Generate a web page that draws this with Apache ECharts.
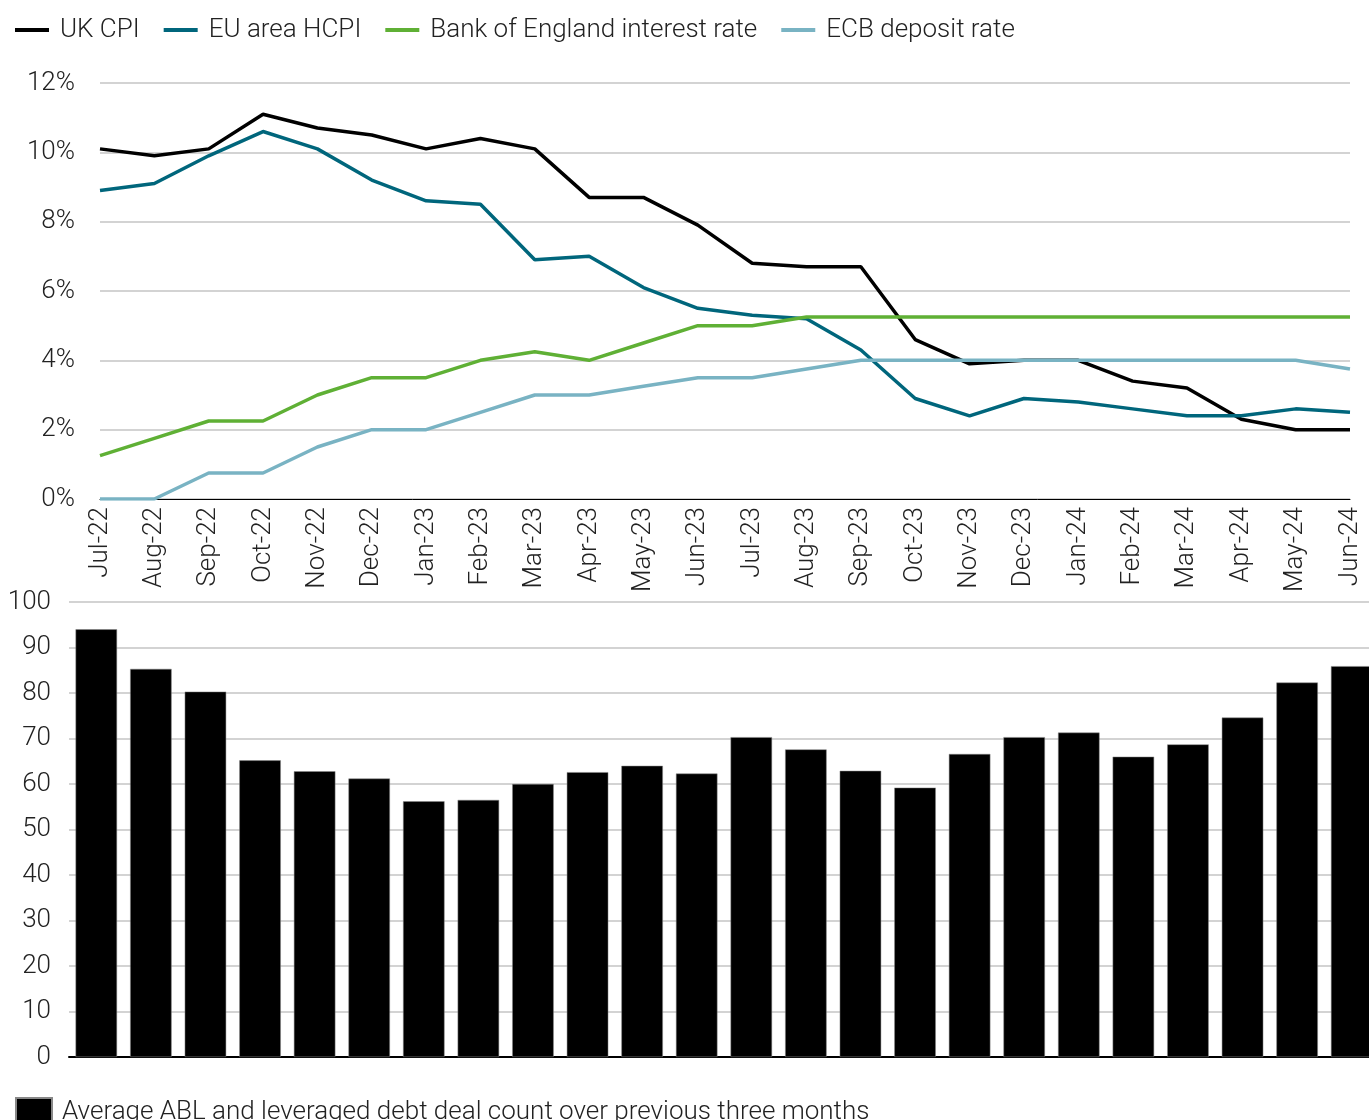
<!DOCTYPE html>
<html>
<head>
<meta charset="utf-8">
<script src="https://cdn.jsdelivr.net/npm/echarts@6/dist/echarts.min.js"></script>
<style>
  html, body { margin: 0; padding: 0; background: #fff; overflow: hidden; }
  /* a little wider than the window: the last bar is cut at the right edge */
  #chart { width: 1380px; height: 1120px; }
</style>
</head>
<body>
<div id="chart"></div>
<script>
"use strict";
var months = ["Jul-22", "Aug-22", "Sep-22", "Oct-22", "Nov-22", "Dec-22", "Jan-23", "Feb-23",
  "Mar-23", "Apr-23", "May-23", "Jun-23", "Jul-23", "Aug-23", "Sep-23", "Oct-23", "Nov-23",
  "Dec-23", "Jan-24", "Feb-24", "Mar-24", "Apr-24", "May-24", "Jun-24"];

var ukCpi = [10.1, 9.9, 10.1, 11.1, 10.7, 10.5, 10.1, 10.4, 10.1, 8.7, 8.7, 7.9,
  6.8, 6.7, 6.7, 4.6, 3.9, 4.0, 4.0, 3.4, 3.2, 2.3, 2.0, 2.0];
var euHcpi = [8.9, 9.1, 9.9, 10.6, 10.1, 9.2, 8.6, 8.5, 6.9, 7.0, 6.1, 5.5,
  5.3, 5.2, 4.3, 2.9, 2.4, 2.9, 2.8, 2.6, 2.4, 2.4, 2.6, 2.5];
var boeRate = [1.25, 1.75, 2.25, 2.25, 3.0, 3.5, 3.5, 4.0, 4.25, 4.0, 4.5, 5.0,
  5.0, 5.25, 5.25, 5.25, 5.25, 5.25, 5.25, 5.25, 5.25, 5.25, 5.25, 5.25];
var ecbRate = [0, 0, 0.75, 0.75, 1.5, 2.0, 2.0, 2.5, 3.0, 3.0, 3.25, 3.5,
  3.5, 3.75, 4.0, 4.0, 4.0, 4.0, 4.0, 4.0, 4.0, 4.0, 4.0, 3.75];
var dealCount = [94.0, 85.3, 80.3, 65.2, 62.8, 61.2, 56.2, 56.5, 60.0, 62.6, 64.0, 62.3,
  70.3, 67.6, 62.9, 59.2, 66.6, 70.3, 71.3, 66.0, 68.7, 74.6, 82.3, 85.9];

var FONT = "Roboto";
var TEXT = "#222";
var FS = 26;

var chart = echarts.init(document.getElementById("chart"), null, { renderer: "canvas" });

function lineSeries(name, data, color) {
  return {
    name: name, type: "line", xAxisIndex: 0, yAxisIndex: 0,
    data: data, symbol: "none", smooth: false,
    lineStyle: { color: color, width: 3.5 },
    itemStyle: { color: color }
  };
}

chart.setOption({
  animation: false,
  textStyle: { fontFamily: FONT },
  legend: [{
    top: 12, left: 10, itemGap: 24,
    icon: "rect", itemWidth: 34, itemHeight: 4,
    textStyle: { fontFamily: FONT, fontSize: FS, fontWeight: 300, color: TEXT, padding: [0, 0, 0, 6] },
    data: ["UK CPI", "EU area HCPI", "Bank of England interest rate", "ECB deposit rate"]
  }, {
    top: 1092, left: 10,
    icon: "rect", itemWidth: 36, itemHeight: 28,
    textStyle: { fontFamily: FONT, fontSize: FS, fontWeight: 300, color: TEXT, padding: [6, 0, 0, 5] },
    data: ["Average ABL and leveraged debt deal count over previous three months"]
  }],
  grid: [
    { left: 100, width: 1250, top: 83, bottom: 621, containLabel: false },
    { left: 69, width: 1310, top: 602, bottom: 63, containLabel: false }
  ],
  xAxis: [{
    gridIndex: 0, type: "category", data: months, boundaryGap: false,
    axisLine: { lineStyle: { color: "#000", width: 1 } },
    axisTick: { show: false },
    axisLabel: { rotate: 90, margin: 8, fontSize: FS, fontWeight: 300, color: TEXT, interval: 0 }
  }, {
    gridIndex: 1, type: "category", data: months,
    axisLine: { lineStyle: { color: "#000", width: 2 } },
    axisTick: { show: false },
    axisLabel: { show: false }
  }],
  yAxis: [{
    gridIndex: 0, type: "value", min: 0, max: 12, interval: 2,
    axisLine: { show: false }, axisTick: { show: false },
    axisLabel: { formatter: "{value}%", margin: 25, fontSize: FS, fontWeight: 300, color: TEXT },
    splitLine: { lineStyle: { color: "#c4c4c4", width: 1.5 } }
  }, {
    gridIndex: 1, type: "value", min: 0, max: 100, interval: 10,
    axisLine: { show: false }, axisTick: { show: false },
    axisLabel: { margin: 18, fontSize: FS, fontWeight: 300, color: TEXT },
    splitLine: { lineStyle: { color: "#c4c4c4", width: 1.5 } }
  }],
  series: [
    lineSeries("UK CPI", ukCpi, "#000000"),
    lineSeries("EU area HCPI", euHcpi, "#00667C"),
    lineSeries("Bank of England interest rate", boeRate, "#5FB035"),
    lineSeries("ECB deposit rate", ecbRate, "#79B3C3"),
    {
      name: "Average ABL and leveraged debt deal count over previous three months",
      type: "bar", xAxisIndex: 1, yAxisIndex: 1, data: dealCount,
      barCategoryGap: "24%",
      itemStyle: { color: "#000", borderColor: "#888", borderWidth: 0.5 }
    }
  ]
});
</script>
</body>
</html>
